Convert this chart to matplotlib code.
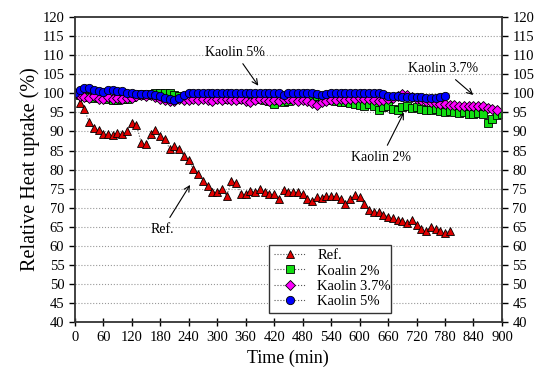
import numpy as np
import matplotlib
matplotlib.use('Agg')
import matplotlib.pyplot as plt

plt.rcParams['font.family'] = ['Liberation Serif', 'DejaVu Serif']

# time axes (min)
t_ref = np.arange(10, 800, 10)
t_k2 = np.arange(0, 910, 10)
t_k37 = np.arange(0, 900, 10)
t_k5 = np.arange(0, 790, 10)

ref = [97.5, 96.0, 92.4, 90.8, 90.3, 89.4, 89.4, 89.0, 89.5, 89.4,
       90.0, 92.2, 91.7, 87.0, 86.6, 89.4, 90.3, 88.8, 87.9, 85.5,
       86.1, 85.5, 83.5, 82.4, 80.1, 78.8, 77.0, 75.7, 74.1, 74.1,
       74.8, 73.1, 77.0, 76.5, 73.7, 73.5, 74.4, 74.0, 74.8, 74.1,
       73.5, 73.5, 72.3, 74.6, 74.1, 74.1, 74.0, 73.5, 72.4, 71.8,
       72.8, 72.6, 73.1, 73.0, 73.0, 72.4, 71.1, 72.2, 73.3, 72.7,
       70.9, 69.3, 68.9, 68.9, 68.2, 67.6, 67.2, 66.7, 66.5, 65.9,
       66.9, 65.4, 64.3, 63.9, 65.0, 64.4, 63.9, 63.5, 63.8]

k2 = [100.0, 99.5, 99.2, 99.0, 98.8, 99.0, 98.7, 98.5, 98.3, 98.2,
      98.4, 98.6, 99.0, 99.5, 99.7, 99.6, 99.8, 100.0, 100.2, 100.1,
      100.0, 99.6, 99.2, 99.0, 98.8, 98.8, 98.9, 98.7, 98.8, 98.6,
      98.7, 98.8, 98.6, 98.8, 98.7, 98.6, 98.8, 98.5, 98.7, 98.6,
      98.3, 97.9, 97.2, 98.2, 97.6, 97.9, 98.4, 98.6, 98.5, 98.7,
      98.9, 99.3, 98.8, 98.6, 98.3, 98.0, 97.6, 97.8, 97.5, 97.3,
      97.0, 96.6, 97.2, 96.8, 95.7, 96.4, 96.8, 96.0, 95.7, 96.5,
      96.6, 96.2, 96.4, 96.0, 95.7, 95.6, 95.8, 95.3, 95.2, 95.3,
      95.0, 94.9, 95.0, 94.7, 94.6, 94.8, 94.5, 92.3, 93.2, 94.2,
      94.6]

k37 = [100.0, 99.3, 99.0, 98.8, 99.2, 98.6, 98.4, 99.0, 98.5, 98.8,
       98.6, 98.9, 98.7, 99.2, 99.5, 99.4, 99.5, 99.0, 98.5, 98.2,
       97.9, 98.0, 98.6, 98.2, 98.3, 98.4, 98.2, 98.4, 98.3, 98.1,
       98.4, 98.2, 98.4, 98.2, 98.3, 98.5, 98.0, 97.6, 98.3, 98.4,
       98.2, 98.0, 98.3, 98.1, 98.4, 98.5, 98.2, 98.0, 98.3, 98.0,
       97.5, 96.9, 97.6, 98.0, 98.3, 98.2, 98.4, 98.3, 98.5, 98.6,
       98.8, 98.6, 98.4, 98.2, 98.0, 98.2, 98.5, 98.8, 99.3, 99.7,
       99.6, 99.0, 98.6, 98.2, 97.9, 97.6, 97.4, 97.3, 97.2, 97.0,
       96.9, 96.8, 96.7, 96.7, 96.6, 96.8, 96.6, 96.2, 96.0, 95.7]

k5 = [100.2, 101.0, 101.5, 101.3, 101.0, 100.6, 100.4, 100.8, 100.8, 100.7,
      100.5, 100.2, 100.0, 99.9, 99.8, 99.8, 99.7, 99.6, 99.3, 98.8,
      98.4, 98.3, 98.7, 99.6, 100.0, 100.0, 100.1, 100.0, 100.0, 100.1,
      100.0, 100.0, 100.1, 100.0, 100.0, 100.1, 100.0, 100.0, 100.1, 100.0,
      100.0, 100.0, 100.0, 100.1, 99.6, 100.0, 100.1, 100.0, 100.0, 100.0,
      100.0, 99.7, 99.5, 99.8, 100.0, 100.0, 100.1, 100.0, 100.0, 100.0,
      100.0, 100.0, 100.1, 100.0, 100.1, 99.8, 99.3, 99.2, 99.2, 99.1,
      99.1, 99.0, 99.0, 99.0, 98.9, 98.9, 98.8, 99.0, 99.2]

fig = plt.figure(figsize=(5.38, 3.79), dpi=100)
ax = fig.add_axes([0.139, 0.150, 0.794, 0.805])

line_kw = dict(ls=':', lw=0.8, color='#555555', mec='black', mew=0.6, ms=6)
ax.plot(t_ref, ref, marker='^', mfc='#e00000', label='Ref.', **line_kw)
ax.plot(t_k2, k2, marker='s', mfc='#11dd11', label='Koalin 2%', **{**line_kw, 'ms': 5.5})
ax.plot(t_k37, k37, marker='D', mfc='#ff00ff', label='Kaolin 3.7%', **{**line_kw, 'ms': 5})
ax.plot(t_k5, k5, marker='o', mfc='#0000ff', label='Kaolin 5%', **line_kw)

ax.set_xlim(0, 900)
ax.set_ylim(40, 120)
ax.set_xticks(np.arange(0, 901, 60))
ax.set_yticks(np.arange(40, 121, 5))
for y in np.arange(45, 120, 5):
    ax.axhline(y, ls=':', lw=0.8, color='#999999', zorder=0)

ax.tick_params(axis='x', direction='inout', length=6, labelsize=10.5, width=1)
ax.tick_params(axis='y', direction='out', length=4, labelsize=10.5, width=1,
               right=True, labelright=True)
for s in ax.spines.values():
    s.set_linewidth(1.3)
    s.set_color('#333333')

ax.set_xlabel('Time (min)', fontsize=13)
ax.set_ylabel('Relative Heat uptake (%)', fontsize=14.5, labelpad=2)

arr = dict(arrowstyle='->', lw=0.8, color='black')
ax.annotate('Kaolin 5%', xy=(390, 101.4), xytext=(337, 110.8), fontsize=10,
            ha='center', va='center', arrowprops=arr)
ax.annotate('Kaolin 3.7%', xy=(844, 99.1), xytext=(775, 106.5), fontsize=10,
            ha='center', va='center', arrowprops=arr)
ax.annotate('Kaolin 2%', xy=(696, 95.6), xytext=(646, 83.3), fontsize=10,
            ha='center', va='center', arrowprops=arr)
ax.annotate('Ref.', xy=(246, 76.6), xytext=(185, 64.4), fontsize=10,
            ha='center', va='center', arrowprops=arr)

leg = ax.legend(loc='lower left', bbox_to_anchor=(0.438, 0.007, 0.319, 0.252),
                mode='expand', fontsize=10.5, fancybox=False, framealpha=1,
                edgecolor='#333333', handlelength=2.2, borderpad=0.3,
                labelspacing=0.15)
leg.get_frame().set_linewidth(1.0)

fig.savefig('out.png', dpi=100)
